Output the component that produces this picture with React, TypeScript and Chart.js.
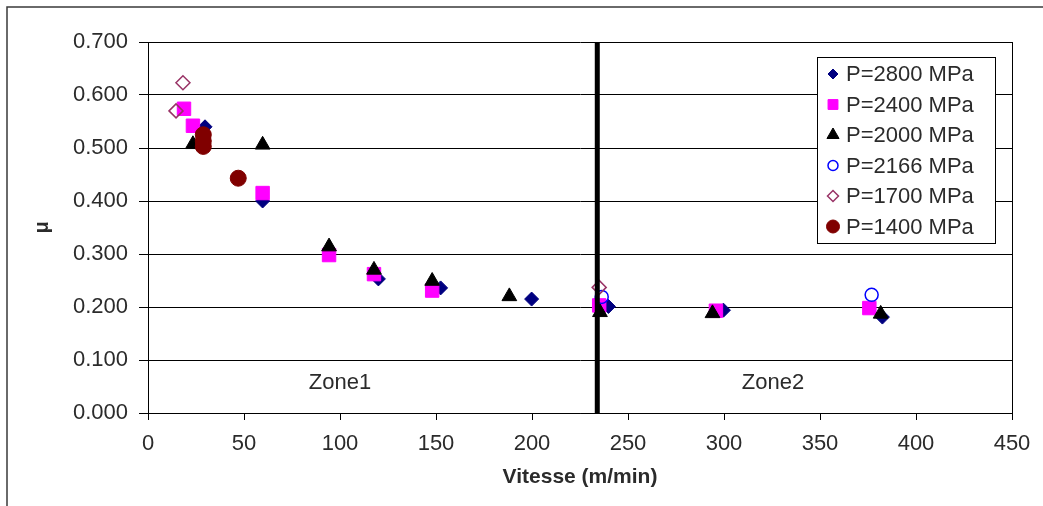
import React, { useEffect, useRef } from 'react';
import { Chart, registerables } from 'chart.js';

Chart.register(...registerables);

// ---- Data ----
const seriesLabels = ['P=2800 MPa', 'P=2400 MPa', 'P=2000 MPa', 'P=2166 MPa', 'P=1700 MPa', 'P=1400 MPa'];

const p2800X = [29.7, 59.7, 120, 152.4, 199.8, 239.8, 299.7, 382.5];
const p2800Y = [0.540, 0.400, 0.253, 0.236, 0.215, 0.201, 0.194, 0.181];

const p2400X = [18.75, 23.4, 59.7, 94.3, 117.7, 148, 235, 295.8, 375.7];
const p2400Y = [0.574, 0.542, 0.415, 0.298, 0.262, 0.231, 0.203, 0.193, 0.198];

const p2000X = [23.4, 59.7, 94.3, 117.7, 148, 188.2, 235.4, 294, 381.6];
const p2000Y = [0.507, 0.506, 0.314, 0.270, 0.249, 0.220, 0.190, 0.188, 0.187];

const p2166X = [236.3, 376.9];
const p2166Y = [0.219, 0.223];

const p1700X = [18.2, 14.6, 235];
const p1700Y = [0.623, 0.570, 0.237];

const p1400X = [28.8, 28.8, 28.8, 47];
const p1400Y = [0.525, 0.513, 0.503, 0.443];

const zoneBoundaryX = 234;
const zoneLabels = ['Zone1', 'Zone2'];
const zoneLabelX = [100, 325.5];
const zoneLabelY = [0.057, 0.057];

const xTitle = 'Vitesse (m/min)';
const yTitle = 'μ';

type Marker = { style: string; color: string; fill: boolean; r: number; lr: number };
const markers: Marker[] = [
  { style: 'rectRot', color: '#000080', fill: true, r: 7, lr: 5 },
  { style: 'rect', color: '#ff00ff', fill: true, r: 9.5, lr: 7 },
  { style: 'triangle', color: '#000000', fill: true, r: 8.5, lr: 7 },
  { style: 'circle', color: '#0000ff', fill: false, r: 6.5, lr: 5 },
  { style: 'rectRot', color: '#993366', fill: false, r: 7, lr: 5.5 },
  { style: 'circle', color: '#800000', fill: true, r: 8, lr: 6.5 },
];

const FONT = "'Liberation Sans', Arial, sans-serif";
const TEXT = '#2b2b2b';

function zip(xs: number[], ys: number[]) {
  return xs.map((x, i) => ({ x, y: ys[i] }));
}

function drawMarker(ctx: CanvasRenderingContext2D, m: Marker, x: number, y: number, r: number) {
  ctx.save();
  ctx.beginPath();
  if (m.style === 'circle') {
    ctx.arc(x, y, r, 0, Math.PI * 2);
  } else if (m.style === 'rect') {
    const s = Math.SQRT1_2 * r;
    ctx.rect(x - s, y - s, 2 * s, 2 * s);
  } else if (m.style === 'rectRot') {
    ctx.moveTo(x - r, y);
    ctx.lineTo(x, y - r);
    ctx.lineTo(x + r, y);
    ctx.lineTo(x, y + r);
    ctx.closePath();
  } else if (m.style === 'triangle') {
    let a = 0;
    ctx.moveTo(x + Math.sin(a) * r, y - Math.cos(a) * r);
    a += (2 * Math.PI) / 3;
    ctx.lineTo(x + Math.sin(a) * r, y - Math.cos(a) * r);
    a += (2 * Math.PI) / 3;
    ctx.lineTo(x + Math.sin(a) * r, y - Math.cos(a) * r);
    ctx.closePath();
  }
  if (m.fill) {
    ctx.fillStyle = m.color;
    ctx.fill();
  }
  ctx.strokeStyle = m.color;
  ctx.lineWidth = m.fill ? 1 : 1.5;
  ctx.stroke();
  ctx.restore();
}

const decorPlugin = {
  id: 'decor',
  beforeDraw(chart: any) {
    const ctx: CanvasRenderingContext2D = chart.ctx;
    ctx.save();
    ctx.fillStyle = '#ffffff';
    ctx.fillRect(0, 0, chart.width, chart.height);
    ctx.strokeStyle = '#3a3a3a';
    ctx.lineWidth = 1.5;
    ctx.beginPath();
    ctx.moveTo(7, chart.height);
    ctx.lineTo(7, 7);
    ctx.lineTo(chart.width, 7);
    ctx.stroke();
    ctx.restore();
  },
  afterDraw(chart: any) {
    const ctx: CanvasRenderingContext2D = chart.ctx;
    const area = chart.chartArea;
    const xs = chart.scales.x;
    const ys = chart.scales.y;
    ctx.save();
    // right border of plot area
    ctx.strokeStyle = '#000';
    ctx.lineWidth = 1;
    ctx.beginPath();
    ctx.moveTo(Math.round(area.right) + 0.5, area.top);
    ctx.lineTo(Math.round(area.right) + 0.5, area.bottom + 7);
    ctx.stroke();

    // zone labels
    ctx.fillStyle = TEXT;
    ctx.font = `22px ${FONT}`;
    ctx.textAlign = 'center';
    ctx.textBaseline = 'middle';
    zoneLabels.forEach((t, i) => {
      ctx.fillText(t, xs.getPixelForValue(zoneLabelX[i]), ys.getPixelForValue(zoneLabelY[i]));
    });

    // legend
    const lx = 817, ly = 57, lw = 178, lh = 186;
    ctx.fillStyle = '#ffffff';
    ctx.fillRect(lx, ly, lw, lh);
    ctx.strokeStyle = '#000';
    ctx.lineWidth = 1;
    ctx.strokeRect(lx + 0.5, ly + 0.5, lw, lh);
    ctx.font = `22px ${FONT}`;
    ctx.textAlign = 'left';
    ctx.textBaseline = 'middle';
    const rowH = 30.5;
    seriesLabels.forEach((t, i) => {
      const cy = ly + 17 + i * rowH;
      drawMarker(ctx, markers[i], lx + 16, cy, markers[i].lr);
      ctx.fillStyle = TEXT;
      ctx.fillText(t, lx + 29, cy + 1);
    });
    ctx.restore();
  },
};

export default function App() {
  const ref = useRef<HTMLCanvasElement | null>(null);

  useEffect(() => {
    if (!ref.current) return;
    const series = [
      zip(p2800X, p2800Y),
      zip(p2400X, p2400Y),
      zip(p2000X, p2000Y),
      zip(p2166X, p2166Y),
      zip(p1700X, p1700Y),
      zip(p1400X, p1400Y),
    ];
    const datasets: any[] = series.map((data, i) => ({
      type: 'scatter',
      label: seriesLabels[i],
      data,
      pointStyle: markers[i].style,
      pointRadius: markers[i].r,
      pointHoverRadius: markers[i].r,
      backgroundColor: markers[i].fill ? markers[i].color : 'rgba(0,0,0,0)',
      borderColor: markers[i].color,
      pointBorderWidth: markers[i].fill ? 1 : 1.5,
      borderWidth: markers[i].fill ? 1 : 1.5,
      order: 7 - i,
    }));
    datasets.push({
      type: 'line',
      label: 'boundary',
      data: [
        { x: zoneBoundaryX, y: 0 },
        { x: zoneBoundaryX, y: 0.7 },
      ],
      borderColor: '#000',
      borderWidth: 5,
      pointRadius: 0,
      showLine: true,
      order: 0,
    });

    const chart = new Chart(ref.current, {
      type: 'scatter',
      data: { datasets },
      plugins: [decorPlugin],
      options: {
        animation: false,
        responsive: false,
        devicePixelRatio: 1,
        events: [],
        layout: { padding: { left: 20, top: 42, right: 31, bottom: 6 } },
        plugins: {
          legend: { display: false },
          tooltip: { enabled: false },
        },
        scales: {
          x: {
            type: 'linear',
            min: 0,
            max: 450,
            afterFit: (s: any) => {
              s.height = 87;
            },
            ticks: {
              stepSize: 50,
              color: TEXT,
              font: { family: FONT, size: 22 },
              padding: 11,
              maxRotation: 0,
            },
            grid: {
              drawOnChartArea: false,
              drawTicks: true,
              tickLength: 7,
              color: '#000',
            },
            border: { display: true, color: '#000', width: 1 },
            title: {
              display: true,
              text: xTitle,
              color: TEXT,
              font: { family: FONT, size: 21, weight: 'bold' },
              padding: { top: 0, bottom: 10 },
            },
          },
          y: {
            type: 'linear',
            min: 0,
            max: 0.7,
            afterFit: (s: any) => {
              s.width = 128;
            },
            ticks: {
              stepSize: 0.1,
              color: TEXT,
              font: { family: FONT, size: 22 },
              padding: 11,
              callback: (v: any) => Number(v).toFixed(3),
            },
            grid: {
              drawOnChartArea: true,
              drawTicks: true,
              tickLength: 9,
              color: '#000',
              lineWidth: 1,
            },
            border: { display: true, color: '#000', width: 1 },
            title: {
              display: true,
              text: yTitle,
              color: TEXT,
              font: { family: FONT, size: 20, weight: 'bold' },
              padding: { top: 10, bottom: 0 },
            },
          },
        },
      } as any,
    });
    return () => chart.destroy();
  }, []);

  return (
    <div style={{ position: 'fixed', left: 0, top: 0, width: 1043, height: 506, background: '#fff' }}>
      <canvas ref={ref} width={1043} height={506} style={{ display: 'block' }} />
    </div>
  );
}
